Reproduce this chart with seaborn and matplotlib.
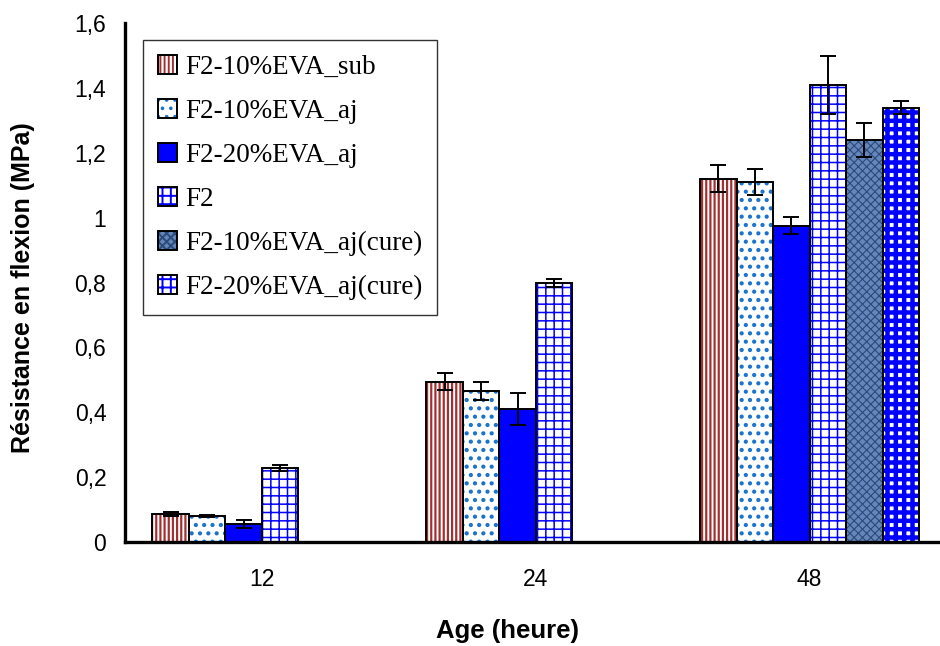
import numpy as np
import pandas as pd
import matplotlib
matplotlib.use('Agg')
import matplotlib.pyplot as plt
import seaborn as sns
from matplotlib.ticker import FixedLocator, FuncFormatter

# data
ages = ['12', '24', '48']
series = ['F2-10%EVA_sub', 'F2-10%EVA_aj', 'F2-20%EVA_aj', 'F2',
          'F2-10%EVA_aj(cure)', 'F2-20%EVA_aj(cure)']

sub_vals = [0.085, 0.495, 1.12]
sub_err = [0.006, 0.027, 0.042]
aj10_vals = [0.080, 0.465, 1.11]
aj10_err = [0.004, 0.028, 0.040]
aj20_vals = [0.055, 0.41, 0.975]
aj20_err = [0.012, 0.050, 0.026]
f2_vals = [0.228, 0.80, 1.41]
f2_err = [0.010, 0.012, 0.090]
aj10c_vals = [np.nan, np.nan, 1.24]
aj10c_err = [np.nan, np.nan, 0.052]
aj20c_vals = [np.nan, np.nan, 1.34]
aj20c_err = [np.nan, np.nan, 0.020]

all_vals = [sub_vals, aj10_vals, aj20_vals, f2_vals, aj10c_vals, aj20c_vals]
all_err = [sub_err, aj10_err, aj20_err, f2_err, aj10c_err, aj20c_err]

# styles: face colour, hatch, hatch colour, hatch width
faces = ['white', 'white', '#0000ff', 'white', '#6486bb', 'white']
hatches = ['||||', '..', '', '++', 'xxxx', '++']
hatch_cols = ['#a33030', '#1a72cc', '#0000ff', '#0000ff', '#2c4a78', '#0000ff']
hatch_lws = [1.6, 1.8, 1.0, 1.1, 0.8, 3.2]

rows = []
for name, vals, errs in zip(series, all_vals, all_err):
    for a, v, e in zip(ages, vals, errs):
        if not np.isnan(v):
            rows.append({'Age': a, 'Serie': name, 'Valeur': v, 'Err': e})
df = pd.DataFrame(rows)

sns.set_style('white')
plt.rcParams['font.family'] = ['Liberation Sans', 'DejaVu Sans']
plt.rcParams['hatch.linewidth'] = 1.4
for k in ['text.color', 'axes.labelcolor', 'xtick.color', 'ytick.color']:
    plt.rcParams[k] = 'black'

fig = plt.figure(figsize=(9.4, 6.46), dpi=100)
ax = fig.add_axes([0.133, 0.161, 0.874, 0.803])

# pass 1: fill + hatch
sns.barplot(data=df, x='Age', y='Valeur', hue='Serie', order=ages, hue_order=series,
            palette=faces, errorbar=None, legend=False, ax=ax, saturation=1)
fill_cont = list(ax.containers)
for c, h, hc, hl in zip(fill_cont, hatches, hatch_cols, hatch_lws):
    for p in c.patches:
        p.set_hatch(h)
        p.set_edgecolor(hc)
        p.set_linewidth(0)
        if hasattr(p, 'set_hatch_linewidth'):
            p.set_hatch_linewidth(hl)

# pass 2: black outlines
sns.barplot(data=df, x='Age', y='Valeur', hue='Serie', order=ages, hue_order=series,
            palette=['black'] * 6, fill=False, errorbar=None, legend=False, ax=ax,
            linewidth=1.4)
line_cont = list(ax.containers)[len(fill_cont):]
for c in line_cont:
    for p in c.patches:
        p.set_edgecolor('black')

# error bars at the bar positions
for c, name in zip(fill_cont, series):
    sub = df[df['Serie'] == name]
    xs = [p.get_x() + p.get_width() / 2 for p in c.patches]
    hs = [p.get_height() for p in c.patches]
    ax.errorbar(xs, hs, yerr=sub['Err'].values, fmt='none', ecolor='black',
                elinewidth=1.4, capsize=5.5, capthick=1.4, zorder=5)

ax.set_ylim(0, 1.6)
ax.set_xlim(-0.5, 2.5)
ax.yaxis.set_major_locator(FixedLocator(np.arange(0, 1.61, 0.2)))
ax.yaxis.set_major_formatter(FuncFormatter(lambda v, pos: ('%g' % round(v, 1)).replace('.', ',')))
ax.xaxis.set_major_locator(FixedLocator([-0.5, 0.5, 1.5]))
ax.xaxis.set_major_formatter(FuncFormatter(lambda v, pos: ''))
ax.xaxis.set_minor_locator(FixedLocator([0, 1, 2]))
ax.set_xticklabels(ages, minor=True)
ax.tick_params(axis='x', which='minor', length=0, labelsize=16.5, pad=19)
ax.tick_params(axis='x', which='major', length=6, width=2.2, direction='out')
ax.tick_params(axis='y', length=6.5, width=2, direction='out', labelsize=16.5, pad=7)

for s in ['top', 'right']:
    ax.spines[s].set_visible(False)
for s in ['left', 'bottom']:
    ax.spines[s].set_linewidth(2.4)
    ax.spines[s].set_color('black')

ax.set_xlabel('Age (heure)', fontsize=18.5, fontweight='bold')
ax.set_ylabel('Résistance en flexion (MPa)', fontsize=18, fontweight='bold')
ax.xaxis.set_label_coords(0.466, -0.148)
ax.yaxis.set_label_coords(-0.11, 0.49)

handles = [(f.patches[0], l.patches[0]) for f, l in zip(fill_cont, line_cont)]
leg = ax.legend(handles, series, loc='upper left', bbox_to_anchor=(0.022, 0.967),
                borderaxespad=0, prop={'family': 'Liberation Serif', 'size': 19.5},
                handlelength=0.7, handleheight=0.7, handletextpad=0.3,
                labelspacing=0.7, borderpad=0.55, frameon=True, fancybox=False)
leg.get_frame().set_edgecolor('black')
leg.get_frame().set_linewidth(1.0)

fig.savefig('out.png', dpi=100)
